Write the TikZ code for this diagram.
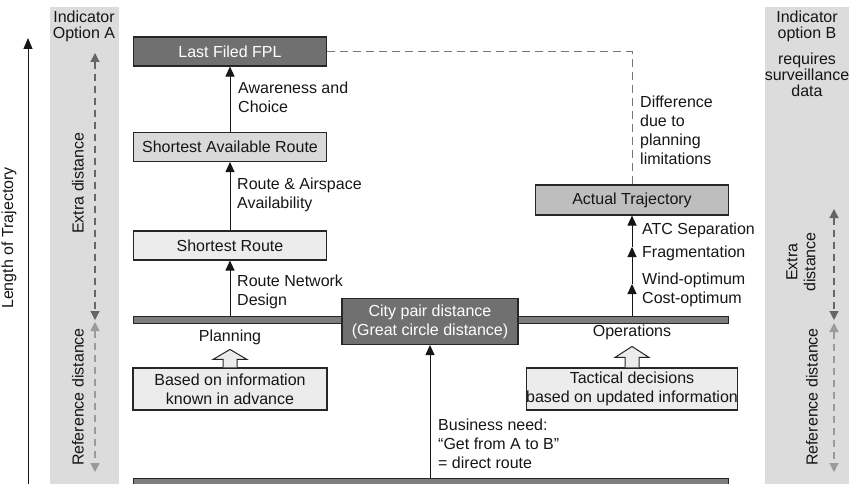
\documentclass[tikz,border=0pt]{standalone}
\usepackage{fontspec}
\setmainfont{Liberation Sans}
\usetikzlibrary{arrows.meta,calc}

\definecolor{ink}{HTML}{161616}
\definecolor{edge}{HTML}{262626}
\definecolor{bandgrey}{HTML}{DCDCDC}
\definecolor{darkfill}{HTML}{707070}
\definecolor{barfill}{HTML}{7E7E7E}
\definecolor{midfill}{HTML}{BEBEBE}
\definecolor{softfill}{HTML}{D9D9D9}
\definecolor{palefill}{HTML}{ECECEC}
\definecolor{extraC}{HTML}{666666}
\definecolor{refC}{HTML}{9A9A9A}
\definecolor{dashC}{HTML}{777777}

\begin{document}
\begin{tikzpicture}[x=1pt,y=-1pt,
  font=\fontsize{16}{19}\selectfont,
  every node/.style={text=ink},
  box/.style={draw=edge, line width=1.1pt, minimum width=193pt, minimum height=29pt, inner sep=0pt, align=center},
  darkbox/.style={box, fill=darkfill, text=white},
  bar/.style={draw=edge, fill=barfill, line width=1pt, minimum width=595pt, minimum height=7pt, inner sep=0pt},
  conn/.style={-{Triangle[length=10pt,width=9pt]}, line width=1pt, draw=ink},
  lbl/.style={anchor=west, align=left, inner sep=0pt},
  bandtxt/.style={align=center, inner sep=0pt, font=\fontsize{16}{16}\selectfont},
  rottxt/.style={rotate=90, align=center, inner sep=0pt, font=\fontsize{16}{18}\selectfont},
  measure/.style={dash pattern=on 7pt off 5pt, line width=1.2pt,
    {Triangle[length=9pt,width=9pt]}-{Triangle[length=9pt,width=9pt]}},
  hollow/.style={draw=edge, fill=palefill, line width=1pt, line join=miter}
]
\useasboundingbox (0,0) rectangle (854,484);

% indicator bands
\fill[bandgrey] (50,7) rectangle (119,484);
\fill[bandgrey] (765,7) rectangle (849,484);

% overall length axis
\coordinate (lenlo) at (28,486);
\coordinate (lenhi) at (28,38);
\draw[-{Triangle[length=11pt,width=9pt]}, line width=1pt, draw=ink] (lenlo) -- (lenhi);
\node[rottxt] (lenlbl) at (9,238) {Length of Trajectory};

% indicator option A
\node[bandtxt] (indA) at (84,26) {Indicator\\Option A};
\coordinate (aTop) at (95,53);
\coordinate (aMid) at (95,320);
\coordinate (aMid2) at (95,322);
\coordinate (aBot) at (95,472);
\draw[measure, draw=extraC] (aTop) -- (aMid);
\draw[measure, draw=refC] (aMid2) -- (aBot);
\node[rottxt] (extraA) at (78,183) {Extra distance};
\node[rottxt] (refA) at (78,397) {Reference distance};

% indicator option B
\node[bandtxt] (indB) at (807,26) {Indicator\\option B};
\node[bandtxt] (survB) at (807,75) {requires\\surveillance\\data};
\coordinate (bTop) at (834,209);
\coordinate (bMid) at (834,320);
\coordinate (bMid2) at (834,323);
\coordinate (bBot) at (834,472);
\draw[measure, draw=extraC] (bTop) -- (bMid);
\draw[measure, draw=refC] (bMid2) -- (bBot);
\node[rottxt] (extraB) at (801,262) {Extra\\distance};
\node[rottxt] (refB) at (812,397) {Reference distance};

% horizontal bars
\node[bar] (planbar) at (430.5,319.5) {};
\node[bar, minimum height=8pt] (basebar) at (430.5,482) {};

% route boxes
\node[darkbox] (fpl) at (230,51.5) {Last Filed FPL};
\node[box, fill=softfill] (sar) at (230,147) {Shortest Available Route};
\node[box, fill=palefill] (sr) at (230,245.5) {Shortest Route};
\node[darkbox, minimum width=176pt, minimum height=46pt] (city) at (430,321.5) {City pair distance\\(Great circle distance)};
\node[box, fill=midfill, minimum height=30pt] (actual) at (632,200) {Actual Trajectory};
\node[box, fill=palefill, minimum width=194pt, minimum height=42pt] (based) at (230,389) {Based on information\\known in advance};
\node[box, fill=palefill, minimum height=42pt] (tactical) at (632,389) {Tactical decisions\\based on updated information};

\node[inner sep=0pt] (planning) at (230,337) {Planning};
\node[inner sep=0pt] (operations) at (632,332) {Operations};

% planning chain
\draw[conn] (planbar.north -| sr.south) -- (sr.south);
\draw[conn] (sr.north) -- (sar.south);
\draw[conn] (sar.north) -- (fpl.south);
\draw[conn] (basebar.north -| city.south) -- (city.south);

% operations chain
\coordinate (w1) at (632,284);
\coordinate (w2) at (632,247);
\draw[conn] (planbar.north -| actual.south) -- (w1);
\draw[conn] (w1) -- (w2);
\draw[conn] (w2) -- (actual.south);

% planning difference
\draw[dashC, line width=1pt, dash pattern=on 8pt off 5pt] (fpl.east) -- (fpl.east -| actual.north) -- (actual.north);

% hollow arrows
\draw[hollow] ($(based.north)+(-7,0)$) -- ($(based.north)+(-7,-8)$) -- ($(based.north)+(-17,-8)$)
  -- ($(based.north)+(0,-18)$) -- ($(based.north)+(17,-8)$) -- ($(based.north)+(7,-8)$) -- ($(based.north)+(7,0)$);
\draw[hollow] ($(tactical.north)+(-7,0)$) -- ($(tactical.north)+(-7,-10)$) -- ($(tactical.north)+(-17,-10)$)
  -- ($(tactical.north)+(0,-21)$) -- ($(tactical.north)+(17,-10)$) -- ($(tactical.north)+(7,-10)$) -- ($(tactical.north)+(7,0)$);

% connector labels
\node[lbl] (l1) at (238,97.5) {Awareness and\\Choice};
\node[lbl] (l2) at (237,195) {Route \& Airspace\\Availability};
\node[lbl] (l3) at (237,292) {Route Network\\Design};
\node[lbl] (l4) at (640,130.5) {Difference\\due to\\planning\\limitations};
\node[lbl] (l5) at (642,230) {ATC Separation};
\node[lbl] (l6) at (642,253) {Fragmentation};
\node[lbl] (l7) at (642,289.5) {Wind-optimum\\Cost-optimum};
\node[lbl] (l8) at (438,444) {Business need:\\“Get from A to B”\\= direct route};
\end{tikzpicture}
\end{document}
